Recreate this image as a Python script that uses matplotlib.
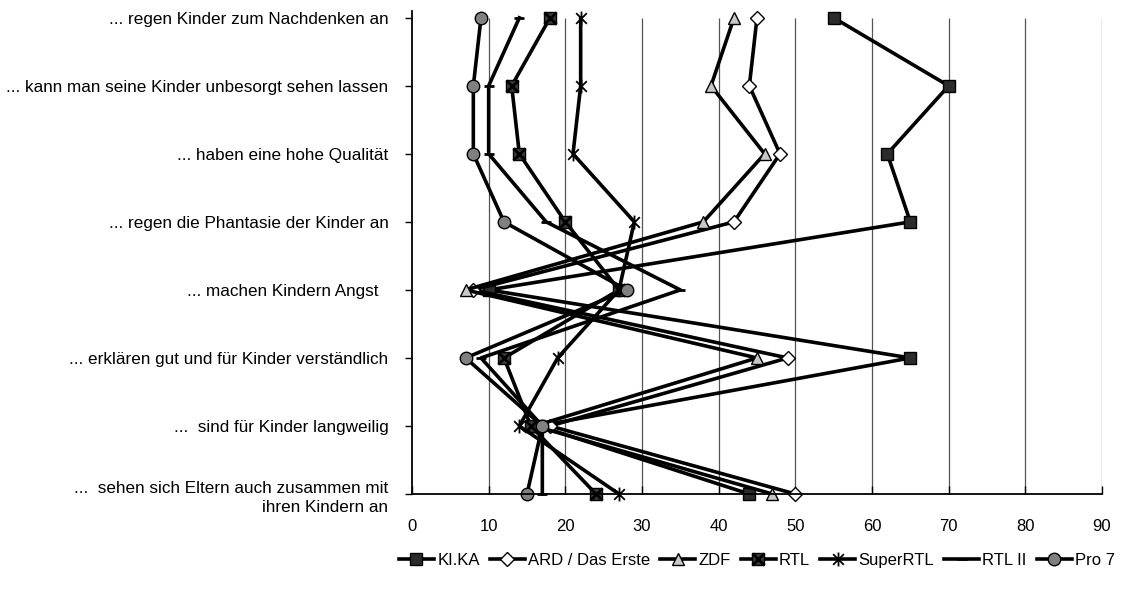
import matplotlib
matplotlib.use("Agg")
import matplotlib.pyplot as plt
from matplotlib.path import Path
from matplotlib.legend_handler import HandlerTuple

# statements (top to bottom)
categories = [
    "... regen Kinder zum Nachdenken an",
    "... kann man seine Kinder unbesorgt sehen lassen",
    "... haben eine hohe Qualität",
    "... regen die Phantasie der Kinder an",
    "... machen Kindern Angst  ",
    "... erklären gut und für Kinder verständlich",
    "...  sind für Kinder langweilig",
    "...  sehen sich Eltern auch zusammen mit\nihren Kindern an",
]

# values per channel
kika = [55, 70, 62, 65, 10, 65, 16.5, 44]
ard = [45, 44, 48, 42, 8, 49, 18, 50]
zdf = [42, 39, 46, 38, 7, 45, 16, 47]
rtl = [18, 13, 14, 20, 27, 12, 15.5, 24]
superrtl = [22, 22, 21, 29, 27, 19, 14, 27]
rtl2 = [14, 10, 10, 17.5, 35, 9, 17, 17]
pro7 = [9, 8, 8, 12, 28, 7, 17, 15]

xticks = [0, 10, 20, 30, 40, 50, 60, 70, 80, 90]

plt.rcParams["font.family"] = ["Liberation Sans", "DejaVu Sans"]

# asterisk-like marker: X with a vertical bar
star = Path([(-1, -1), (1, 1), (-1, 1), (1, -1), (0, -1.3), (0, 1.3)],
            [Path.MOVETO, Path.LINETO, Path.MOVETO, Path.LINETO,
             Path.MOVETO, Path.LINETO])

fig = plt.figure(figsize=(11.21, 5.91), dpi=100)
ax = fig.add_axes([412 / 1121, 1 - 494 / 591, 690 / 1121, 483 / 591])

ypos = list(range(len(categories)))

# vertical grid lines
ax.vlines(xticks[1:], 0, 7, color="#555555", lw=0.9, zorder=0)

lw = 2.6
h_kika, = ax.plot(kika, ypos, color="black", lw=lw, marker="s", ms=9,
                  mfc="#2b2b2b", mec="black", clip_on=False)
h_ard, = ax.plot(ard, ypos, color="black", lw=lw, marker="D", ms=7,
                 mfc="white", mec="black", mew=1, clip_on=False)
h_zdf, = ax.plot(zdf, ypos, color="black", lw=lw, marker="^", ms=9,
                 mfc="#c8c8c8", mec="black", mew=1, clip_on=False)
h_rtl, = ax.plot(rtl, ypos, color="black", lw=lw, marker="s", ms=9,
                 mfc="#3a3a3a", mec="black", clip_on=False)
h_rtlx, = ax.plot(rtl, ypos, ls="none", marker="x", ms=9, mec="black",
                  mew=2, clip_on=False)
h_srtl, = ax.plot(superrtl, ypos, color="black", lw=lw, marker=star, ms=10,
                  mfc="none", mec="black", mew=1.3, clip_on=False)
h_rtl2, = ax.plot(rtl2, ypos, color="black", lw=lw, marker="_", ms=7, mew=2,
                  mec="black", clip_on=False)
h_pro7, = ax.plot(pro7, ypos, color="black", lw=lw, marker="o", ms=9,
                  mfc="#808080", mec="black", mew=1, clip_on=False)

ax.set_xlim(0, 90)
ax.set_ylim(7, -0.1)
ax.set_xticks(xticks)
ax.set_xticklabels([str(t) for t in xticks], fontsize=12)
ax.set_yticks(ypos)
ax.set_yticklabels(categories, fontsize=12.3, linespacing=1.4)
ax.tick_params(axis="x", direction="in", length=6, pad=18, width=1)
ax.tick_params(axis="y", direction="out", length=5, pad=12, width=1)

for s in ["top", "right"]:
    ax.spines[s].set_visible(False)
for s in ["left", "bottom"]:
    ax.spines[s].set_linewidth(1.3)
    ax.spines[s].set_color("black")

handles = [h_kika, h_ard, h_zdf, (h_rtl, h_rtlx), h_srtl, h_rtl2, h_pro7]
labels = ["KI.KA", "ARD / Das Erste", "ZDF", "RTL", "SuperRTL", "RTL II", "Pro 7"]
ax.legend(handles, labels, loc="center", bbox_to_anchor=(0.5, -0.137), ncol=7,
          frameon=False, fontsize=12, handlelength=2.1, handletextpad=0.2,
          columnspacing=0.6, borderaxespad=0,
          handler_map={tuple: HandlerTuple(ndivide=1, pad=0)})

fig.savefig("out.png", dpi=100)
